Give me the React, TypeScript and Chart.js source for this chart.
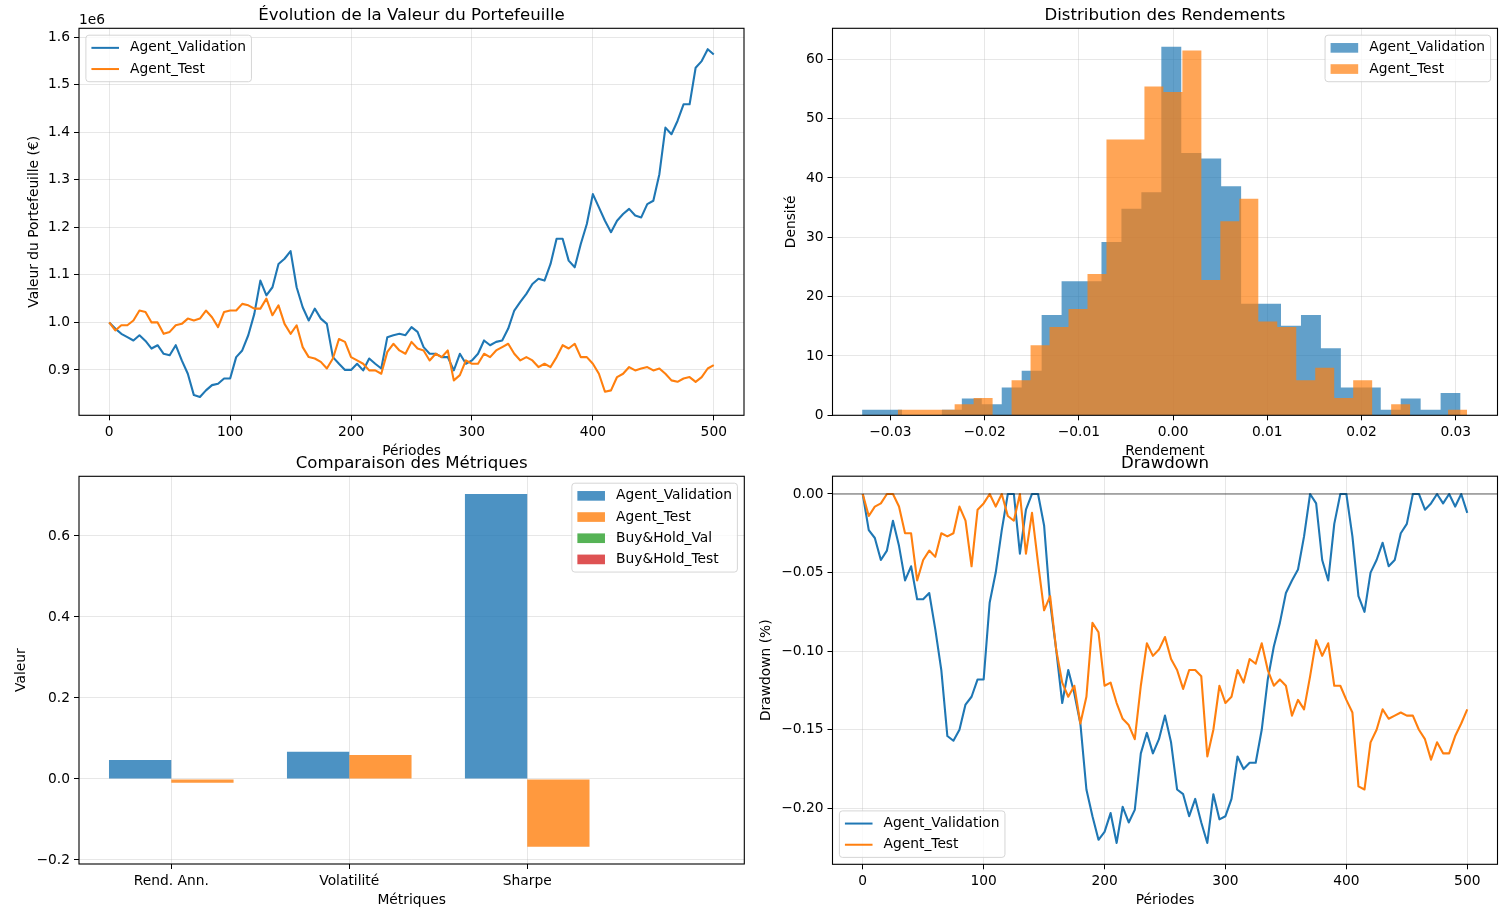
import React, { useEffect, useRef } from "react";
import { Chart, registerables } from "chart.js";

Chart.register(...registerables);

const FONT = "'DejaVu Sans', 'Liberation Sans', sans-serif";
const TICK_SIZE = 13.8;
const TITLE_SIZE = 16.6;
const BLUE = "#1f77b4";
const ORANGE = "#ff7f0e";
const GRID = "rgba(176,176,176,0.3)";

Chart.defaults.font.family = FONT;
Chart.defaults.color = "#000";

// portfolio value (millions €), one reading every STEP periods
const STEP = 5;
const valPortfolio = [
  1.0, 0.987, 0.976, 0.969, 0.962, 0.973, 0.961, 0.945, 0.952, 0.934,
  0.931, 0.952, 0.92, 0.892, 0.847, 0.843, 0.857, 0.868, 0.871, 0.882,
  0.882, 0.927, 0.941, 0.973, 1.018, 1.088, 1.057, 1.074, 1.123, 1.134,
  1.15, 1.074, 1.032, 1.004, 1.029, 1.008, 0.997, 0.927, 0.913, 0.9,
  0.9, 0.913, 0.899, 0.924, 0.913, 0.903, 0.969, 0.973, 0.976, 0.973,
  0.99, 0.98, 0.948, 0.934, 0.934, 0.927, 0.927, 0.899, 0.934, 0.913,
  0.92, 0.934, 0.962, 0.952, 0.959, 0.962, 0.987, 1.025, 1.043, 1.06,
  1.081, 1.092, 1.088, 1.123, 1.176, 1.176, 1.13, 1.116, 1.165, 1.207,
  1.27, 1.242, 1.214, 1.19, 1.214, 1.228, 1.239, 1.225, 1.221, 1.249,
  1.256, 1.312, 1.41, 1.396, 1.424, 1.459, 1.459, 1.536, 1.55, 1.575,
  1.564,
];
const testPortfolio = [
  1.0, 0.983, 0.994, 0.994, 1.004, 1.025, 1.022, 1.0, 1.0, 0.976,
  0.98, 0.994, 0.997, 1.008, 1.004, 1.008, 1.025, 1.011, 0.99, 1.022,
  1.025, 1.025, 1.039, 1.036, 1.029, 1.029, 1.05, 1.015, 1.036, 0.997,
  0.976, 0.994, 0.948, 0.927, 0.924, 0.917, 0.903, 0.924, 0.965, 0.959,
  0.927, 0.92, 0.913, 0.899, 0.899, 0.892, 0.938, 0.955, 0.941, 0.934,
  0.959, 0.945, 0.941, 0.92, 0.934, 0.927, 0.941, 0.878, 0.889, 0.92,
  0.913, 0.913, 0.934, 0.927, 0.941, 0.948, 0.955, 0.934, 0.92, 0.927,
  0.92, 0.906, 0.913, 0.906, 0.927, 0.952, 0.945, 0.955, 0.927, 0.927,
  0.913, 0.892, 0.854, 0.857, 0.885, 0.892, 0.906, 0.899, 0.903, 0.906,
  0.899, 0.903, 0.892, 0.878, 0.875, 0.882, 0.885, 0.875, 0.885, 0.903,
  0.91,
];

// drawdown, same sampling
const valDrawdown = [
  0, -0.023, -0.028, -0.042, -0.036, -0.017, -0.033, -0.055, -0.046, -0.067,
  -0.067, -0.063, -0.086, -0.112, -0.154, -0.157, -0.15, -0.134, -0.129, -0.118,
  -0.118, -0.069, -0.05, -0.023, 0, 0, -0.038, -0.01, 0, 0,
  -0.02, -0.069, -0.099, -0.133, -0.112, -0.127, -0.146, -0.188, -0.205, -0.22,
  -0.215, -0.203, -0.222, -0.199, -0.209, -0.201, -0.165, -0.152, -0.165, -0.156,
  -0.141, -0.158, -0.188, -0.191, -0.205, -0.194, -0.209, -0.222, -0.191, -0.207,
  -0.205, -0.194, -0.167, -0.175, -0.171, -0.171, -0.15, -0.118, -0.097, -0.082,
  -0.063, -0.055, -0.048, -0.027, 0, -0.006, -0.042, -0.055, -0.019, 0,
  0, -0.027, -0.065, -0.075, -0.05, -0.042, -0.031, -0.046, -0.042, -0.025,
  -0.019, 0, 0, -0.01, -0.006, 0, -0.006, 0, -0.008, 0,
  -0.012,
];
const testDrawdown = [
  0, -0.014, -0.008, -0.006, 0, 0, -0.008, -0.025, -0.025, -0.055,
  -0.042, -0.036, -0.04, -0.025, -0.027, -0.025, -0.008, -0.017, -0.046, -0.01,
  -0.006, 0, -0.008, 0, -0.014, -0.017, 0, -0.038, -0.012, -0.044,
  -0.074, -0.065, -0.099, -0.12, -0.129, -0.122, -0.146, -0.129, -0.082, -0.088,
  -0.122, -0.12, -0.133, -0.143, -0.147, -0.156, -0.122, -0.095, -0.103, -0.099,
  -0.091, -0.105, -0.112, -0.124, -0.112, -0.112, -0.116, -0.167, -0.15, -0.122,
  -0.133, -0.129, -0.112, -0.12, -0.105, -0.108, -0.095, -0.112, -0.122, -0.118,
  -0.122, -0.141, -0.131, -0.137, -0.116, -0.093, -0.103, -0.095, -0.122, -0.122,
  -0.131, -0.139, -0.186, -0.188, -0.158, -0.15, -0.137, -0.143, -0.141, -0.139,
  -0.141, -0.141, -0.15, -0.156, -0.169, -0.158, -0.165, -0.165, -0.154, -0.146,
  -0.137,
];

// return histograms: 30 bins each, density per bin
const valBinStart = -0.033;
const valBinWidth = 0.002117;
const valDensity = [
  0.94, 0.94, 0, 0, 0.94, 2.82, 1.88, 4.7, 7.53, 16.9,
  22.6, 22.6, 29.2, 34.8, 37.6, 62.1, 44.2, 43.3, 38.6, 18.8,
  18.8, 15.1, 16.9, 11.3, 4.7, 4.7, 0.94, 2.82, 0.94, 3.76,
];
const testBinStart = -0.02922;
const testBinWidth = 0.002014;
const testDensity = [
  0.94, 0.94, 0.94, 1.85, 2.9, 0, 5.9, 11.8, 14.9, 17.9,
  23.8, 46.5, 46.5, 55.4, 54.5, 61.5, 22.8, 32.7, 36.5, 15.8,
  14.9, 5.9, 8.0, 2.9, 5.9, 0, 1.85, 0, 0, 0.94,
];

// metric comparison
const metricLabels = ["Rend. Ann.", "Volatilité", "Sharpe"];
const agentValMetrics = [0.047, 0.067, 0.704];
const agentTestMetrics = [-0.009, 0.059, -0.167];
const bhValMetrics = [0, 0, 0];
const bhTestMetrics = [0, 0, 0];
const BAR_WIDTH = 0.35;

// tick values
const periodTicks = [0, 100, 200, 300, 400, 500];
const portfolioTicks = [0.9, 1.0, 1.1, 1.2, 1.3, 1.4, 1.5, 1.6];
const returnTicks = [-0.03, -0.02, -0.01, 0, 0.01, 0.02, 0.03];
const densityTicks = [0, 10, 20, 30, 40, 50, 60];
const metricTicks = [0, 1, 2];
const metricValueTicks = [-0.2, 0, 0.2, 0.4, 0.6];
const drawdownTicks = [-0.2, -0.15, -0.1, -0.05, 0];

const minus = (s: string) => s.replace("-", "\u2212");
const toPoints = (vals: number[]) => vals.map((y, i) => ({ x: i * STEP, y }));
const histPoints = (start: number, width: number, dens: number[]) => [
  ...dens.map((y, i) => ({ x: start + i * width, y })),
  { x: start + dens.length * width, y: dens[dens.length - 1] },
];
const barPoints = (vals: number[], k: number) =>
  vals.map((y, i) => ({ x: i + (k - 0.5) * BAR_WIDTH, y }));

type AxisSpec = {
  min: number;
  max: number;
  ticks: number[];
  fmt: (v: number) => string;
  title: string;
  size: number;
  titleOffset: number;
};

function linearAxis(spec: AxisSpec, horizontal: boolean) {
  return {
    type: "linear",
    min: spec.min,
    max: spec.max,
    bounds: "data",
    offset: false,
    afterBuildTicks: (scale: any) => {
      scale.ticks = spec.ticks.map((value) => ({ value }));
    },
    afterFit: (scale: any) => {
      if (horizontal) scale.height = spec.size;
      else scale.width = spec.size;
      scale.paddingLeft = 0;
      scale.paddingRight = 0;
      scale.paddingTop = 0;
      scale.paddingBottom = 0;
    },
    grid: { color: GRID, lineWidth: 1, offset: false, drawTicks: true, tickLength: 5, tickColor: "#000", tickWidth: 1 },
    border: { display: false },
    ticks: {
      color: "#000",
      font: { family: FONT, size: TICK_SIZE },
      padding: 4,
      autoSkip: false,
      maxRotation: 0,
      minRotation: 0,
      callback: (v: any) => spec.fmt(Number(v)),
    },
    title: {
      display: true,
      text: spec.title,
      color: "#000",
      font: { family: FONT, size: TICK_SIZE },
      padding: { top: spec.titleOffset, bottom: spec.titleOffset },
    },
  };
}

type LegendItem = { label: string; color: string; kind: "line" | "patch" };

function drawLegend(ctx: CanvasRenderingContext2D, a: any, loc: string, items: LegendItem[]) {
  const f = TICK_SIZE;
  ctx.font = `${f}px ${FONT}`;
  const pad = 0.4 * f;
  const handle = 2 * f;
  const gap = 0.8 * f;
  const pitch = 1.535 * f;
  const spacing = 0.5 * f;
  const textW = Math.max(...items.map((it) => ctx.measureText(it.label).width));
  const w = 2 * pad + handle + gap + textW;
  const h = 2 * pad + items.length * pitch - spacing;
  const inset = 0.5 * f;
  const x = loc.includes("right") ? a.right - inset - w : a.left + inset;
  const y = loc.includes("lower") ? a.bottom - inset - h : a.top + inset;
  ctx.beginPath();
  ctx.roundRect(x, y, w, h, 3);
  ctx.fillStyle = "rgba(255,255,255,0.8)";
  ctx.fill();
  ctx.strokeStyle = "rgba(204,204,204,0.8)";
  ctx.lineWidth = 1;
  ctx.stroke();
  items.forEach((it, i) => {
    const cy = y + pad + (pitch - spacing) / 2 + i * pitch;
    if (it.kind === "line") {
      ctx.strokeStyle = it.color;
      ctx.lineWidth = 2;
      ctx.beginPath();
      ctx.moveTo(x + pad, cy);
      ctx.lineTo(x + pad + handle, cy);
      ctx.stroke();
    } else {
      ctx.fillStyle = it.color;
      ctx.fillRect(x + pad, cy - 0.35 * f, handle, 0.7 * f);
    }
    ctx.fillStyle = "#000";
    ctx.textAlign = "left";
    ctx.textBaseline = "middle";
    ctx.fillText(it.label, x + pad + handle + gap, cy);
  });
}

// frame, title, legend, offset text and zero line, drawn the matplotlib way
const mplPlugin = {
  id: "mpl",
  afterDatasetsDraw(chart: any, _args: any, opts: any) {
    const { ctx, chartArea: a, scales } = chart;
    ctx.save();
    if (opts.zeroLine) {
      const y = scales.y.getPixelForValue(0);
      ctx.strokeStyle = "rgba(0,0,0,0.3)";
      ctx.lineWidth = 2;
      ctx.beginPath();
      ctx.moveTo(a.left, y);
      ctx.lineTo(a.right, y);
      ctx.stroke();
    }
    ctx.strokeStyle = "#000";
    ctx.lineWidth = 1.1;
    ctx.strokeRect(a.left, a.top, a.right - a.left, a.bottom - a.top);
    ctx.fillStyle = "#000";
    ctx.font = `${TITLE_SIZE}px ${FONT}`;
    ctx.textAlign = "center";
    ctx.textBaseline = "alphabetic";
    ctx.fillText(opts.title, (a.left + a.right) / 2, a.top - 8.3);
    if (opts.offsetText) {
      ctx.font = `${TICK_SIZE}px ${FONT}`;
      ctx.textAlign = "left";
      ctx.fillText(opts.offsetText, a.left, a.top - 4.8);
    }
    if (opts.legend) drawLegend(ctx, a, opts.legend.loc, opts.legend.items);
    ctx.restore();
  },
};

const common = {
  responsive: false,
  animation: false,
  events: [],
};

const lineStyle = {
  pointRadius: 0,
  borderWidth: 2.1,
  tension: 0,
  fill: false,
  borderJoinStyle: "round",
};

const agentItems = (kind: "line" | "patch", alpha: number): LegendItem[] => [
  { label: "Agent_Validation", color: kind === "line" ? BLUE : `rgba(31,119,180,${alpha})`, kind },
  { label: "Agent_Test", color: kind === "line" ? ORANGE : `rgba(255,127,14,${alpha})`, kind },
];

const portfolioConfig = () => ({
  type: "line",
  data: {
    datasets: [
      { label: "Agent_Validation", data: toPoints(valPortfolio), borderColor: BLUE, order: 1, ...lineStyle },
      { label: "Agent_Test", data: toPoints(testPortfolio), borderColor: ORANGE, order: 0, ...lineStyle },
    ],
  },
  options: {
    ...common,
    layout: { padding: { top: 28.3, right: 16, bottom: 0, left: 0 } },
    scales: {
      x: linearAxis({ min: -25, max: 525, ticks: periodTicks, fmt: (v) => String(v), title: "Périodes", size: 54.7, titleOffset: 10.7 }, true),
      y: linearAxis({ min: 0.8045, max: 1.619, ticks: portfolioTicks, fmt: (v) => v.toFixed(1), title: "Valeur du Portefeuille (€)", size: 79, titleOffset: 25.7 }, false),
    },
    plugins: {
      legend: { display: false },
      tooltip: { enabled: false },
      mpl: {
        title: "Évolution de la Valeur du Portefeuille",
        offsetText: "1e6",
        legend: { loc: "upper left", items: agentItems("line", 1) },
      },
    },
  },
  plugins: [mplPlugin],
});

const histConfig = () => ({
  type: "line",
  data: {
    datasets: [
      {
        label: "Agent_Validation",
        data: histPoints(valBinStart, valBinWidth, valDensity),
        stepped: "before",
        fill: "origin",
        backgroundColor: "rgba(31,119,180,0.7)",
        borderColor: "transparent",
        borderWidth: 0,
        pointRadius: 0,
        order: 1,
      },
      {
        label: "Agent_Test",
        data: histPoints(testBinStart, testBinWidth, testDensity),
        stepped: "before",
        fill: "origin",
        backgroundColor: "rgba(255,127,14,0.7)",
        borderColor: "transparent",
        borderWidth: 0,
        pointRadius: 0,
        order: 0,
      },
    ],
  },
  options: {
    ...common,
    layout: { padding: { top: 28.3, right: 14.5, bottom: 0, left: 0 } },
    scales: {
      x: linearAxis({ min: -0.03614, max: 0.03443, ticks: returnTicks, fmt: (v) => minus(v.toFixed(2)), title: "Rendement", size: 54.7, titleOffset: 10.7 }, true),
      y: linearAxis({ min: 0, max: 65.23, ticks: densityTicks, fmt: (v) => String(v), title: "Densité", size: 82.5, titleOffset: 32.7 }, false),
    },
    plugins: {
      legend: { display: false },
      tooltip: { enabled: false },
      mpl: {
        title: "Distribution des Rendements",
        legend: { loc: "upper right", items: agentItems("patch", 0.7) },
      },
    },
  },
  plugins: [mplPlugin],
});

const metricsConfig = () => ({
  type: "bar",
  data: {
    datasets: [
      { label: "Agent_Validation", data: barPoints(agentValMetrics, 0), backgroundColor: "rgba(31,119,180,0.8)" },
      { label: "Agent_Test", data: barPoints(agentTestMetrics, 1), backgroundColor: "rgba(255,127,14,0.8)" },
      { label: "Buy&Hold_Val", data: barPoints(bhValMetrics, 2), backgroundColor: "rgba(44,160,44,0.8)" },
      { label: "Buy&Hold_Test", data: barPoints(bhTestMetrics, 3), backgroundColor: "rgba(214,39,40,0.8)" },
    ].map((ds) => ({ ...ds, grouped: false, barThickness: 1, borderWidth: 0, inflateAmount: 0 })),
  },
  options: {
    ...common,
    layout: { padding: { top: 36.3, right: 15.7, bottom: 0, left: 0 } },
    scales: {
      x: linearAxis({ min: -0.5185, max: 3.2197, ticks: metricTicks, fmt: (v) => metricLabels[Math.round(v)], title: "Métriques", size: 45, titleOffset: 0.7 }, true),
      y: linearAxis({ min: -0.2099, max: 0.7474, ticks: metricValueTicks, fmt: (v) => minus(v.toFixed(1)), title: "Valeur", size: 79, titleOffset: 13 }, false),
    },
    plugins: {
      legend: { display: false },
      tooltip: { enabled: false },
      mpl: {
        title: "Comparaison des Métriques",
        legend: {
          loc: "upper right",
          items: [
            { label: "Agent_Validation", color: "rgba(31,119,180,0.8)", kind: "patch" },
            { label: "Agent_Test", color: "rgba(255,127,14,0.8)", kind: "patch" },
            { label: "Buy&Hold_Val", color: "rgba(44,160,44,0.8)", kind: "patch" },
            { label: "Buy&Hold_Test", color: "rgba(214,39,40,0.8)", kind: "patch" },
          ],
        },
      },
    },
  },
  plugins: [mplPlugin],
});

// bar width is BAR_WIDTH in data units, converted through the x scale
const fitBarWidth = (chart: Chart) => {
  const x = chart.scales.x;
  const px = x.getPixelForValue(BAR_WIDTH) - x.getPixelForValue(0);
  chart.data.datasets.forEach((ds: any) => {
    ds.barThickness = px;
  });
  chart.update();
};

const drawdownConfig = () => ({
  type: "line",
  data: {
    datasets: [
      { label: "Agent_Validation", data: toPoints(valDrawdown), borderColor: BLUE, order: 1, ...lineStyle },
      { label: "Agent_Test", data: toPoints(testDrawdown), borderColor: ORANGE, order: 0, ...lineStyle },
    ],
  },
  options: {
    ...common,
    layout: { padding: { top: 36.2, right: 14.5, bottom: 0, left: 0 } },
    scales: {
      x: linearAxis({ min: -25, max: 525, ticks: periodTicks, fmt: (v) => String(v), title: "Périodes", size: 44.7, titleOffset: 0.7 }, true),
      y: linearAxis({ min: -0.2356, max: 0.01132, ticks: drawdownTicks, fmt: (v) => minus(v.toFixed(2)), title: "Drawdown (%)", size: 82.5, titleOffset: 7.7 }, false),
    },
    plugins: {
      legend: { display: false },
      tooltip: { enabled: false },
      mpl: {
        title: "Drawdown",
        zeroLine: true,
        legend: { loc: "lower left", items: agentItems("line", 1) },
      },
    },
  },
  plugins: [mplPlugin],
});

type PanelProps = {
  left: number;
  top: number;
  width: number;
  height: number;
  build: () => any;
  after?: (c: Chart) => void;
};

function Panel({ left, top, width, height, build, after }: PanelProps) {
  const ref = useRef<HTMLCanvasElement | null>(null);

  useEffect(() => {
    if (!ref.current) return;
    const chart = new Chart(ref.current, build());
    if (after) after(chart);
    return () => {
      chart.destroy();
    };
  }, []);

  return (
    <canvas
      ref={ref}
      width={width}
      height={height}
      style={{ position: "absolute", left, top, width, height }}
    />
  );
}

export default function App() {
  return (
    <div
      style={{
        position: "absolute",
        left: 0,
        top: 0,
        width: 1512,
        height: 909,
        overflow: "hidden",
        background: "#fff",
      }}
    >
      <Panel left={0} top={0} width={760} height={470} build={portfolioConfig} />
      <Panel left={750} top={0} width={762} height={470} build={histConfig} />
      <Panel left={0} top={440} width={760} height={469} build={metricsConfig} after={fitBarWidth} />
      <Panel left={750} top={440} width={762} height={469} build={drawdownConfig} />
    </div>
  );
}
